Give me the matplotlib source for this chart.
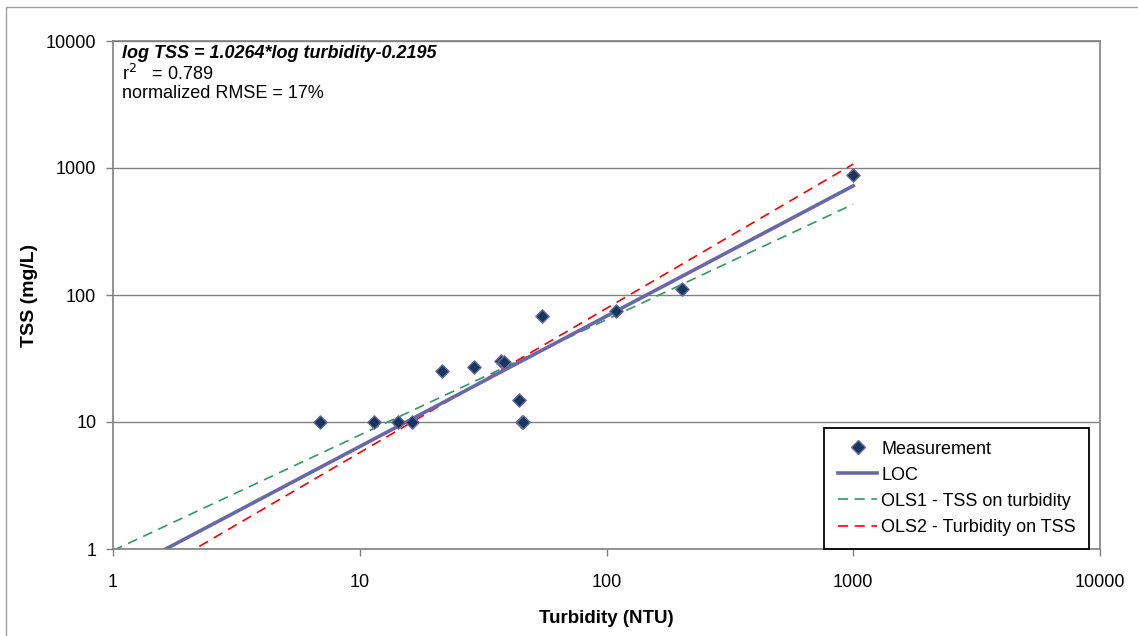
import matplotlib.pyplot as plt
import numpy as np
from matplotlib.lines import Line2D

plt.rcParams['font.family'] = ['Liberation Sans', 'DejaVu Sans']

# Measurements (turbidity NTU, TSS mg/L)
turbidity = [6.9, 11.4, 14.3, 16.3, 21.6, 29.1, 37.4, 38.4, 44.2, 45.5, 46.0, 54.8, 109, 202, 1000]
tss = [10, 10, 10, 10, 25.2, 27.1, 30.2, 29.7, 14.9, 10, 10, 68.4, 75.5, 111, 880]

# fitted lines: log TSS = slope*log turbidity + intercept
line_names = ["LOC", "OLS1 - TSS on turbidity", "OLS2 - Turbidity on TSS"]
slopes = [1.0264, 0.909, 1.136]
intercepts = [-0.2195, -0.012, -0.377]
line_colors = ["#6868A8", "#2E9B62", "#FF0000"]
line_widths = [2.6, 1.2, 1.2]
line_styles = ["-", (0, (6, 4)), (0, (6, 4))]

fig = plt.figure(figsize=(11.38, 6.36), dpi=100)
ax = fig.add_axes([113/1138, 1-549/636, 987/1138, 508/636])

xs = np.logspace(0, 3, 50)
order = [1, 2, 0]
for i in order:
    ys = 10 ** (slopes[i] * np.log10(xs) + intercepts[i])
    ax.plot(xs, ys, color=line_colors[i], lw=line_widths[i], linestyle=line_styles[i], zorder=2)

ax.scatter(turbidity, tss, marker="D", s=46, color="#17375E", edgecolors="#6A6A9E",
           linewidths=1.0, zorder=3)

ax.set_xscale("log")
ax.set_yscale("log")
ax.set_xlim(1, 10000)
ax.set_ylim(1, 10000)
ax.set_xticks([1, 10, 100, 1000, 10000])
ax.set_xticklabels(["1", "10", "100", "1000", "10000"])
ax.set_yticks([1, 10, 100, 1000, 10000])
ax.set_yticklabels(["1", "10", "100", "1000", "10000"])
ax.minorticks_off()
ax.tick_params(direction="out", length=5, width=1, color="#808080", labelsize=13)
ax.tick_params(axis="x", pad=13)
ax.tick_params(axis="y", pad=7)
ax.yaxis.grid(True, color="#808080", lw=1)
ax.set_axisbelow(True)
for s in ax.spines.values():
    s.set_color("#808080")
    s.set_linewidth(1.2)

ax.set_xlabel("Turbidity (NTU)", fontsize=13.5, fontweight="bold", labelpad=14)
ax.set_ylabel("TSS (mg/L)", fontsize=14, fontweight="bold", labelpad=6)

ax.text(0.009, 0.976, "log TSS = 1.0264*log turbidity-0.2195", transform=ax.transAxes,
        fontsize=13, fontweight="bold", fontstyle="italic", va="center")
ax.text(0.009, 0.935, r"r$^{2}$   = 0.789", transform=ax.transAxes, fontsize=13, va="center")
ax.text(0.009, 0.897, "normalized RMSE = 17%", transform=ax.transAxes, fontsize=13, va="center")

handles = [Line2D([], [], marker="D", color="#17375E", markeredgecolor="#6A6A9E", ls="none", markersize=7)]
for i in range(3):
    handles.append(Line2D([], [], color=line_colors[i], lw=line_widths[i], linestyle=line_styles[i]))
labels = ["Measurement"] + line_names
leg = ax.legend(handles, labels, loc="lower right", bbox_to_anchor=(0.989, 0.0), borderaxespad=0,
                fontsize=13, frameon=True, fancybox=False, edgecolor="black", framealpha=1,
                handlelength=2.2, handletextpad=0.22, labelspacing=0.5, borderpad=0.73)
leg.get_frame().set_linewidth(1.3)

# outer chart border
fig.add_artist(plt.Rectangle((6/1138, -0.01), 1.1, 1 - 7/636 + 0.01, transform=fig.transFigure,
                             fill=False, edgecolor="#a0a0a0", lw=1))

fig.savefig("out.png", dpi=100)
